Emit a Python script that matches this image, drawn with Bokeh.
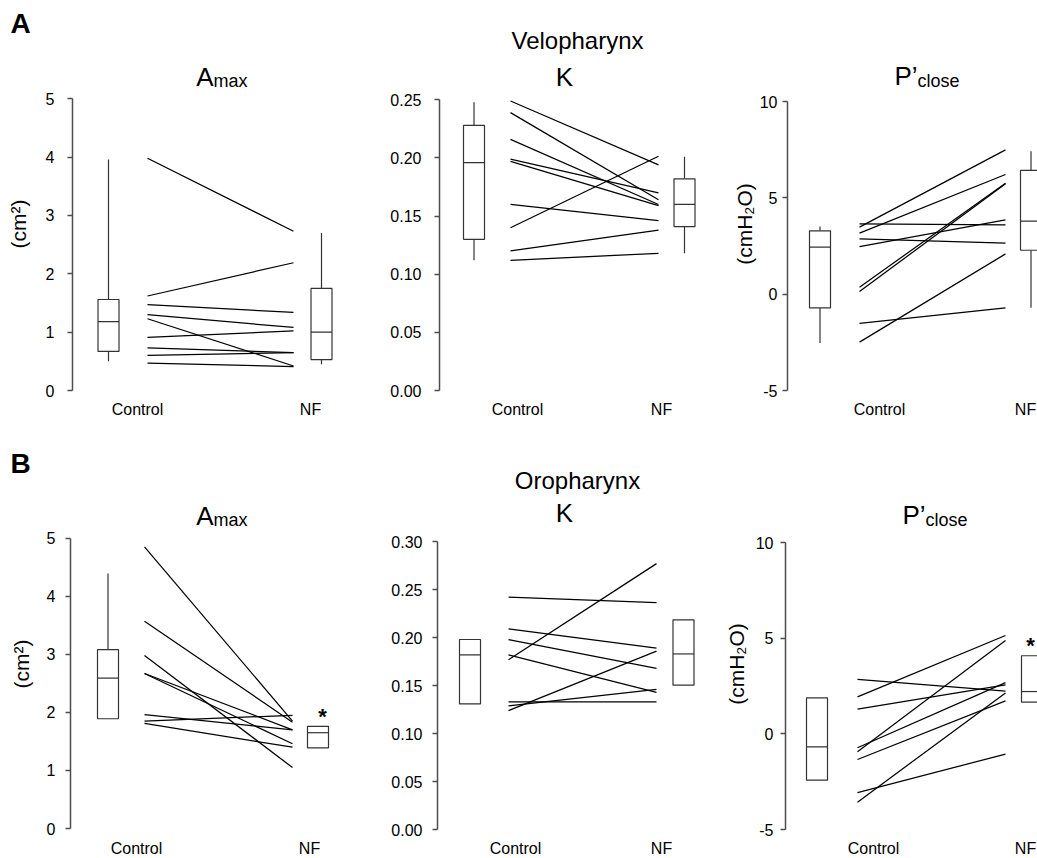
from bokeh.plotting import figure
from bokeh.layouts import column, row
from bokeh.models import Range1d, FixedTicker, PrintfTickFormatter
from bokeh.core.properties import value
from bokeh.embed import file_html
from bokeh.resources import INLINE

FONT = "Liberation Sans"

# ---------------- data ----------------
groups = ["Control", "NF"]

# A: Velopharynx
velo_amax_ctrl = [3.98, 1.62, 1.47, 1.30, 1.23, 0.91, 0.73, 0.60, 0.47]
velo_amax_nf = [2.73, 2.19, 1.34, 1.08, 0.42, 1.02, 0.65, 0.65, 0.41]
velo_amax_box_ctrl = [0.50, 0.67, 1.18, 1.56, 3.96]   # low whisker, q1, median, q3, high whisker
velo_amax_box_nf = [0.45, 0.53, 1.00, 1.75, 2.70]

velo_k_ctrl = [0.249, 0.239, 0.216, 0.199, 0.197, 0.160, 0.140, 0.120, 0.112]
velo_k_nf = [0.194, 0.164, 0.160, 0.170, 0.159, 0.146, 0.2015, 0.138, 0.118]
velo_k_box_ctrl = [0.112, 0.130, 0.196, 0.228, 0.248]
velo_k_box_nf = [0.118, 0.141, 0.160, 0.182, 0.201]

velo_p_ctrl = [3.48, 3.17, 3.65, 2.87, 2.47, 0.36, 0.14, -1.51, -2.49]
velo_p_nf = [7.49, 6.21, 3.60, 2.65, 3.86, 5.76, 5.73, -0.71, 2.09]
velo_p_box_ctrl = [-2.53, -0.71, 2.44, 3.29, 3.51]
velo_p_box_nf = [-0.71, 2.28, 3.79, 6.42, 7.42]

# B: Oropharynx
oro_amax_ctrl = [4.85, 3.57, 2.98, 2.67, 2.67, 1.96, 1.85, 1.81]
oro_amax_nf = [1.85, 1.83, 1.05, 1.70, 1.46, 1.70, 1.95, 1.40]
oro_amax_box_ctrl = [None, 1.89, 2.59, 3.08, 4.39]
oro_amax_box_nf = [None, 1.39, 1.65, 1.76, None]

oro_k_ctrl = [0.242, 0.209, 0.198, 0.182, 0.177, 0.133, 0.129, 0.124]
oro_k_nf = [0.2365, 0.189, 0.168, 0.143, 0.277, 0.133, 0.146, 0.186]
oro_k_box_ctrl = [None, 0.131, 0.182, 0.198, None]
oro_k_box_nf = [None, 0.1505, 0.183, 0.2185, None]

oro_p_ctrl = [2.84, 1.93, 1.29, -0.73, -0.94, -1.34, -3.07, -3.57]
oro_p_nf = [2.23, 5.14, 2.56, 2.68, 4.88, 1.72, -1.06, 2.14]
oro_p_box_ctrl = [None, -2.42, -0.68, 1.88, None]
oro_p_box_nf = [None, 1.66, 2.21, 4.08, None]

amax_ticks = [0, 1, 2, 3, 4, 5]
velo_k_ticks = [0.0, 0.05, 0.10, 0.15, 0.20, 0.25]
oro_k_ticks = [0.0, 0.05, 0.10, 0.15, 0.20, 0.25, 0.30]
p_ticks = [-5, 0, 5, 10]

# ---------------- layout helpers ----------------
AXIS_COL = "#4d4d4d"
BOX_COL = "#333333"
MID = 0.35  # em offset between alphabetic baseline and text middle


def make_panel(L, ctrl, nf, box_c, box_n, ticks, fmt):
    fl, fr, ft, fb = L["fig"]
    ax = L["axis_x"]
    frb = L["frame_bottom"]
    (vt, pt), (vb, pb) = L["ymap"]
    k = (vt - vb) / (pb - pt)

    def vy(py):
        return vb + (pb - py) * k

    def dx(px):
        return px - ax

    fw = fr - ax
    fh = frb - ft
    p = figure(frame_width=fw, frame_height=fh,
               min_border_left=ax - fl, min_border_right=0, min_border_top=0,
               min_border_bottom=fb - frb,
               x_range=Range1d(0, fw), y_range=Range1d(vy(frb), vy(ft)),
               output_backend="svg", toolbar_location=None)
    p.outline_line_color = None
    p.grid.visible = False
    p.background_fill_color = "white"
    p.border_fill_color = "white"

    # y axis
    ya = p.yaxis[0]
    ya.ticker = FixedTicker(ticks=ticks)
    ya.formatter = PrintfTickFormatter(format=fmt)
    ya.bounds = (min(ticks), max(ticks))
    ya.axis_line_color = AXIS_COL
    ya.axis_line_width = 1.5
    ya.major_tick_line_color = AXIS_COL
    ya.major_tick_line_width = 1.5
    ya.major_tick_out = 5
    ya.major_tick_in = 0
    ya.minor_tick_line_color = None
    ya.minor_tick_out = 0
    ya.major_label_standoff = L["standoff"]
    ya.major_label_text_font = FONT
    ya.major_label_text_font_size = "16px"
    ya.major_label_text_color = "black"
    if L.get("ylabel"):
        ya.axis_label = L["ylabel"]
        ya.axis_label_text_font = FONT
        ya.axis_label_text_font_size = "21px"
        ya.axis_label_text_font_style = "normal"
        ya.axis_label_text_color = "black"
        ya.axis_label_standoff = L["label_standoff"]

    # x axis: only the two group names
    xa = p.xaxis[0]
    lx = L["label_x"]
    xa.ticker = FixedTicker(ticks=lx)
    xa.major_label_overrides = {lx[0]: groups[0], lx[1]: groups[1]}
    xa.axis_line_color = None
    xa.major_tick_line_color = None
    xa.minor_tick_line_color = None
    xa.major_tick_out = 0
    xa.minor_tick_out = 0
    xa.major_label_standoff = L["xstandoff"]
    xa.major_label_text_font = FONT
    xa.major_label_text_font_size = "16px"
    xa.major_label_text_color = "black"

    bc, bn = L["box_c"], L["box_n"]
    hw = 10.5
    for cx, b in ((bc, box_c), (bn, box_n)):
        lo, q1, med, q3, hi = b
        if hi is not None:
            p.segment(x0=[cx], x1=[cx], y0=[q3], y1=[hi], line_color=BOX_COL, line_width=1.2)
        if lo is not None:
            p.segment(x0=[cx], x1=[cx], y0=[lo], y1=[q1], line_color=BOX_COL, line_width=1.2)
        p.quad(left=[cx - hw], right=[cx + hw], bottom=[q1], top=[q3],
               fill_color="white", line_color=BOX_COL, line_width=1.2)
        p.segment(x0=[cx - hw], x1=[cx + hw], y0=[med], y1=[med],
                  line_color=BOX_COL, line_width=1.2)

    x0, x1 = L["lines"]
    n = len(ctrl)
    p.segment(x0=[x0] * n, x1=[x1] * n, y0=ctrl, y1=nf,
              line_color="black", line_width=1.25)

    # title (main + subscript part); positions given as baselines
    for (txt, px, base, size, align) in L["title"]:
        p.text(x=[dx(px)], y=[vy(base - MID * size)], text=[txt], text_font=value(FONT),
               text_font_size=f"{size}px", text_align=align, text_baseline="middle",
               text_color="black")
    for (px, py) in L.get("stars", []):
        p.text(x=[dx(px)], y=[vy(py + 4)], text=["*"], text_font=value(FONT),
               text_font_size="22px", text_font_style="bold", text_align="center",
               text_baseline="middle", text_color="black")
    return p


def header(top, height, letter, letter_base, name, name_x, name_base):
    p = figure(frame_width=1037, frame_height=height, min_border=0,
               x_range=Range1d(0, 1037), y_range=Range1d(0, height),
               x_axis_type=None, y_axis_type=None,
               output_backend="svg", toolbar_location=None)
    p.outline_line_color = None
    p.grid.visible = False
    bottom = top + height
    p.text(x=[10], y=[bottom - (letter_base - MID * 28)], text=[letter], text_font=value(FONT),
           text_font_size="28px", text_font_style="bold", text_align="left",
           text_baseline="middle", text_color="black")
    p.text(x=[name_x], y=[bottom - (name_base - MID * 24)], text=[name], text_font=value(FONT),
           text_font_size="24px", text_align="center", text_baseline="middle",
           text_color="black")
    return p


# page-pixel layout of each panel
LA1 = dict(fig=(0, 355, 55, 440), axis_x=72, frame_bottom=392, ymap=((5, 98.3), (0, 390)),
           standoff=13, ylabel="(cm²)", label_standoff=13, box_c=36, box_n=249,
           lines=(75, 221), label_x=[65, 238], xstandoff=8,
           title=[("A", 213, 86, 26, "right"), ("max", 213, 87, 18, "left")])
LA2 = dict(fig=(355, 700, 55, 440), axis_x=439, frame_bottom=392, ymap=((0.25, 99.3), (0, 390)),
           standoff=13, box_c=34.5, box_n=245, lines=(71, 219), label_x=[78, 222], xstandoff=8,
           title=[("K", 564, 86, 26, "center")])
LA3 = dict(fig=(700, 1037, 55, 440), axis_x=787, frame_bottom=392, ymap=((10, 101), (-5, 390)),
           standoff=5, ylabel="(cmH₂O)", label_standoff=1, box_c=32.5, box_n=243.5,
           lines=(72, 218), label_x=[92, 238], xstandoff=8,
           title=[("P’", 917, 85, 26, "right"), ("close", 917, 87, 18, "left")])

LB1 = dict(fig=(0, 355, 497, 858), axis_x=70, frame_bottom=830, ymap=((5, 537.7), (0, 828)),
           standoff=10, ylabel="(cm²)", label_standoff=11, box_c=37.5, box_n=247.5,
           lines=(74, 222), label_x=[66, 239], xstandoff=9,
           title=[("A", 213, 525, 26, "right"), ("max", 213, 526, 18, "left")],
           stars=[(322, 712)])
LB2 = dict(fig=(355, 700, 497, 858), axis_x=437, frame_bottom=830, ymap=((0.30, 541), (0, 829.3)),
           standoff=10, box_c=32.5, box_n=246, lines=(71, 219), label_x=[78, 224], xstandoff=9,
           title=[("K", 564, 522, 26, "center")])
LB3 = dict(fig=(700, 1037, 497, 858), axis_x=785, frame_bottom=830, ymap=((10, 542), (-5, 829)),
           standoff=7, ylabel="(cmH₂O)", label_standoff=5, box_c=31.5, box_n=246.5,
           lines=(72, 220), label_x=[88, 240], xstandoff=9,
           title=[("P’", 925, 524, 26, "right"), ("close", 925, 526, 18, "left")],
           stars=[(1030, 641)])

pA1 = make_panel(LA1, velo_amax_ctrl, velo_amax_nf, velo_amax_box_ctrl, velo_amax_box_nf, amax_ticks, "%d")
pA2 = make_panel(LA2, velo_k_ctrl, velo_k_nf, velo_k_box_ctrl, velo_k_box_nf, velo_k_ticks, "%.2f")
pA3 = make_panel(LA3, velo_p_ctrl, velo_p_nf, velo_p_box_ctrl, velo_p_box_nf, p_ticks, "%d")
pB1 = make_panel(LB1, oro_amax_ctrl, oro_amax_nf, oro_amax_box_ctrl, oro_amax_box_nf, amax_ticks, "%d")
pB2 = make_panel(LB2, oro_k_ctrl, oro_k_nf, oro_k_box_ctrl, oro_k_box_nf, oro_k_ticks, "%.2f")
pB3 = make_panel(LB3, oro_p_ctrl, oro_p_nf, oro_p_box_ctrl, oro_p_box_nf, p_ticks, "%d")

hA = header(0, 55, "A", 33, "Velopharynx", 577, 48)
hB = header(440, 57, "B", 473, "Oropharynx", 577, 488)

layout = column(hA, row(pA1, pA2, pA3), hB, row(pB1, pB2, pB3))
open("out.html", "w").write(file_html(layout, INLINE))
